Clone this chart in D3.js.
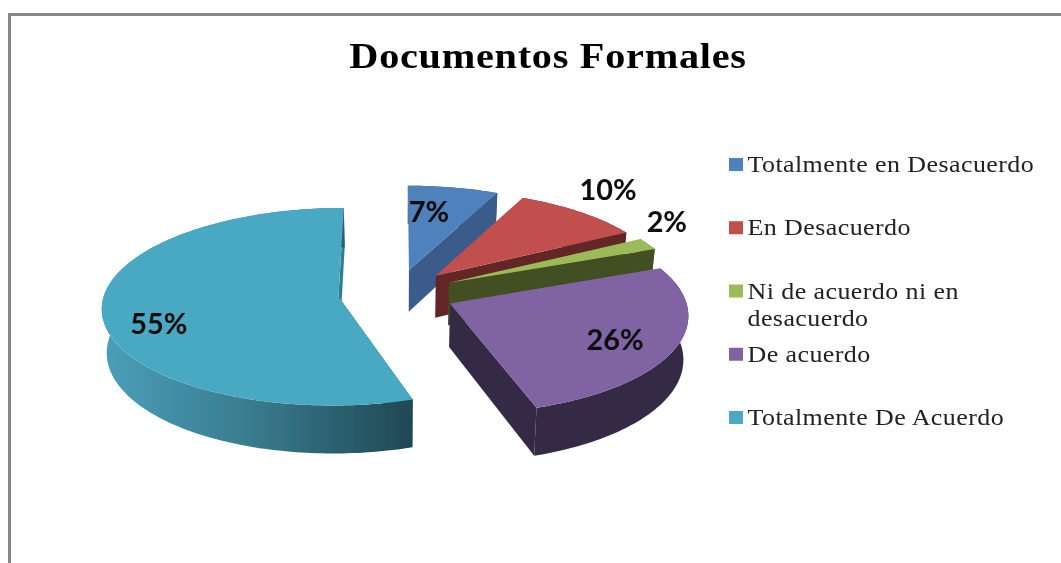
<!DOCTYPE html>
<html><head><meta charset="utf-8">
<script src="https://cdn.jsdelivr.net/npm/d3@7/dist/d3.min.js"></script>
<style>html,body{margin:0;padding:0;background:#fff;overflow:hidden}svg{display:block}</style>
</head><body><svg id="c" width="1061" height="563"></svg>
<script>
const chartTitle = "Documentos Formales";
const categories = ["Totalmente en Desacuerdo","En Desacuerdo","Ni de acuerdo ni en desacuerdo","De acuerdo","Totalmente De Acuerdo"];
const values = [7,10,2,26,55];
const legendLines = [["Totalmente en Desacuerdo"],["En Desacuerdo"],["Ni de acuerdo ni en","desacuerdo"],["De acuerdo"],["Totalmente De Acuerdo"]];
const topColors = ["#4f81bd","#c0504d","#9bbb59","#8064a2","#4aa9c3"];
const sideColors = ["#3a5c8a","#642726","#434f24","#352a44","url(#tealSide)"];
const faceColors = ["#3a5c8a","#642726","#434f24","#352a44","#2f7f92"];

// layout
const cx=396.5, cy=293, rx=234, ry=97, persp=0.1, explode=0.25, depth=43, shrink=0.983;
const labelR=[0.68,1.15,1.1,0.7,0.8];
const labelNudge=[[-11,-1],[8,-14],[0,-19],[9,5],[9,14]];

const svg=d3.select("#c");
const defs=svg.append("defs");
const g=defs.append("linearGradient").attr("id","tealSide").attr("gradientUnits","userSpaceOnUse")
  .attr("x1",105).attr("x2",412).attr("y1",0).attr("y2",0);
[[0,"#4a9fb8"],[0.5,"#38798c"],[1,"#1f4854"]].forEach(s=>g.append("stop").attr("offset",s[0]).attr("stop-color",s[1]));
const soft=defs.append("filter").attr("id","soft").attr("x","-5%").attr("y","-5%").attr("width","110%").attr("height","110%");
soft.append("feGaussianBlur").attr("stdDeviation",0.5);

svg.append("rect").attr("x",9.5).attr("y",14.5).attr("width",1100).attr("height",600)
  .attr("fill","#fff").attr("stroke","#888").attr("stroke-width",3);

const xs=d3.scaleLinear().domain([0,1]).range([0,rx]);
const ys=d3.scaleLinear().domain([0,1]).range([0,ry]);
function proj(X,Y,low){
  const k=1/(1+persp*Y);
  let sx=xs(X)*k, sy=-ys(Y)*k;
  if(low){sx*=shrink; sy+=depth*k;}
  return [cx+sx,cy+sy];
}
const arcs=d3.pie().sort(null).startAngle(0).endAngle(2*Math.PI)(values);
const line=d3.line();
const pieG=svg.append("g").attr("filter","url(#soft)");

function ring(a0,a1,ex,ey,low){
  const n=Math.max(2,Math.ceil((a1-a0)/0.02));
  return d3.range(n+1).map(i=>{
    const a=a0+(a1-a0)*i/n;
    return proj(ex+Math.sin(a),ey+Math.cos(a),low);
  });
}
arcs.forEach((d,i)=>{
  const mid=(d.startAngle+d.endAngle)/2;
  const ex=explode*Math.sin(mid), ey=explode*Math.cos(mid);
  const top=ring(d.startAngle,d.endAngle,ex,ey,false);
  const bot=ring(d.startAngle,d.endAngle,ex,ey,true);
  const aT=proj(ex,ey,false), aB=proj(ex,ey,true);
  const s=pieG.append("g").attr("class","slice");
  // end radial face
  s.append("path").attr("d",line([aT,top[top.length-1],bot[bot.length-1],aB])+"Z").attr("fill",faceColors[i]);
  // start radial face
  if(i===4) s.append("path").attr("d",line([aT,top[0],bot[0],aB])+"Z").attr("fill","#1f4854");
  // outer wall
  s.append("path").attr("d",line(top.concat(bot.slice().reverse()))+"Z").attr("fill",sideColors[i]);
  // top
  s.append("path").attr("d",line([aT].concat(top))+"Z").attr("fill",topColors[i]);
});

const labels=svg.append("g").attr("filter","url(#soft)");
arcs.forEach((d,i)=>{
  const mid=(d.startAngle+d.endAngle)/2;
  const ex=explode*Math.sin(mid), ey=explode*Math.cos(mid);
  const p=proj(ex+labelR[i]*Math.sin(mid),ey+labelR[i]*Math.cos(mid),false);
  labels.append("text")
    .attr("transform",`translate(${p[0]+labelNudge[i][0]},${p[1]+labelNudge[i][1]}) scale(1.03,1)`)
    .attr("text-anchor","middle").attr("dominant-baseline","central")
    .attr("font-family","Lato").attr("font-weight",700).attr("font-size",28).attr("fill","#0a0a0a")
    .text(d.value+"%");
});

const text=svg.append("g").attr("filter","url(#soft)");
text.append("text").attr("transform","translate(548,68) scale(1.15,1)").attr("text-anchor","middle")
  .attr("font-family","Liberation Serif").attr("font-weight",700).attr("font-size",35)
  .attr("letter-spacing",0.64).attr("fill","#000").text(chartTitle);

const rows=d3.scalePoint().domain(categories).range([164.5,417.5]);
const legend=text.append("g");
categories.forEach((c,i)=>{
  const y=rows(c);
  legend.append("rect").attr("x",729).attr("y",y-6.5).attr("width",14).attr("height",13).attr("fill",topColors[i]);
  legendLines[i].forEach((t,j)=>{
    legend.append("text").attr("transform",`translate(747.5,${y+7.5+j*27}) scale(1.13,1)`)
      .attr("font-family","Liberation Serif").attr("font-size",23).attr("letter-spacing",0.37).attr("fill","#222").text(t);
  });
});
</script></body></html>
